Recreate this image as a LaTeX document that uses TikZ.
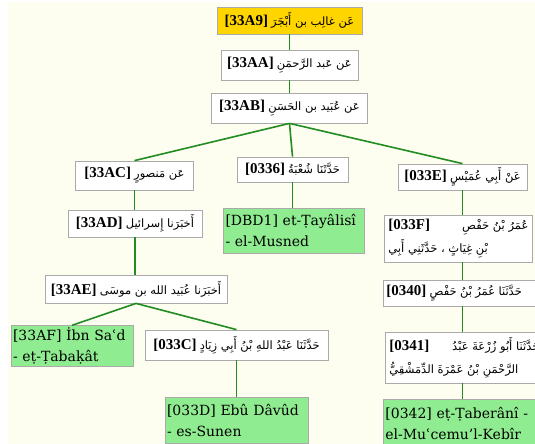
\documentclass[tikz,border=0pt]{standalone}
\usepackage{fontspec}
\setmainfont{DejaVu Serif}
\newfontfamily\idfont{Liberation Serif}
\newfontfamily\arabicfont[Script=Arabic]{DejaVu Sans}
\TeXXeTstate=1
\newcommand\nodeid[1]{{\idfont\bfseries\fontsize{15}{18}\selectfont #1}}
% each Arabic run is boxed so that its right-to-left order stays inside it
\newcommand\artxt[1]{\hbox{\arabicfont\fontsize{11.5}{14}\selectfont\beginR #1\endR}}

\definecolor{bgcream}{RGB}{253,254,240}
\definecolor{boxgray}{RGB}{170,170,170}
\definecolor{rootgold}{RGB}{255,213,0}
\definecolor{srcgreen}{RGB}{144,236,144}
\definecolor{linkgreen}{RGB}{34,140,34}

\tikzset{
  box/.style={draw=boxgray, fill=white, line width=0.8pt, inner sep=3pt,
    align=center},
  rootbox/.style={box, fill=rootgold},
  srcbox/.style={box, fill=srcgreen, align=left, inner sep=2pt,
    font=\fontsize{14}{21}\selectfont},
  longbox/.style={box, inner sep=4pt, align=right,
    font=\fontsize{11}{23}\selectfont},
  link/.style={draw=linkgreen, line width=1.6pt},
}

\begin{document}
\begin{tikzpicture}[x=1pt, y=-1pt]
  \useasboundingbox (0,0) rectangle (535,444);
  \clip (0,0) rectangle (535,444);
  \fill[bgcream] (8,2) rectangle (535,444);

  % chain heads
  \node[rootbox, minimum width=145pt, minimum height=27pt] (n33A9) at (289.5,20.5)
    {\nodeid{[33A9]} \artxt{عَن غالِب بن أَبْجَرَ}};
  \node[box, minimum width=137pt, minimum height=30pt] (n33AA) at (289.5,65)
    {\nodeid{[33AA]} \artxt{عَن عَبد الرَّحمَنِ}};
  \node[box, minimum width=156pt, minimum height=30pt] (n33AB) at (289.5,108)
    {\nodeid{[33AB]} \artxt{عَن عُبَيد بن الحَسَنِ}};

  % left branch
  \node[box, minimum width=118pt, minimum height=29pt] (n33AC) at (134.5,175.5)
    {\nodeid{[33AC]} \artxt{عَن مَنصورٍ}};
  \node[box, minimum width=134pt, minimum height=27pt] (n33AD) at (135,223.5)
    {\nodeid{[33AD]} \artxt{أَخبَرَنا إِسرائيل}};
  \node[box, minimum width=182pt, minimum height=28pt] (n33AE) at (136,289)
    {\nodeid{[33AE]} \artxt{أَخبَرَنا عُبَيد الله بن موسَى}};
  \node[srcbox, text width=118pt, minimum height=38pt] (n33AF) at (72,346)
    {[33AF] İbn Saʿd\\- eṭ-Ṭabaḳât};
  \node[box, minimum width=183pt, minimum height=30pt] (n033C) at (236.5,345)
    {\nodeid{[033C]} \artxt{حَدَّثَنَا عَبْدُ اللهِ بْنُ أَبِي زِيَادٍ}};
  \node[srcbox, text width=139pt, minimum height=46pt] (n033D) at (236.5,420)
    {[033D] Ebû Dâvûd\\- es-Sunen};

  % middle branch
  \node[box, minimum width=111pt, minimum height=25pt] (n0336) at (292.5,169.5)
    {\nodeid{[0336]} \artxt{حَدَّثَنَا شُعْبَةُ}};
  \node[srcbox, text width=137pt, minimum height=45pt] (n0DBD1) at (294,230.5)
    {[DBD1] et-Ṭayâlisî\\- el-Musned};

  % right branch
  \coordinate (rcol) at (462.5,0);
  \node[box, minimum width=129pt, minimum height=26pt] (n033E) at (462.5,177)
    {\nodeid{[033E]} \artxt{عَنْ أَبِي عُمَيْسٍ}};
  \node[longbox, text width=140pt, minimum height=47pt, anchor=west] (n033F) at (384,238.5)
    {\nodeid{[033F]}\hfill\artxt{عُمَرُ بْنُ حَفْصِ}\\
     \artxt{بْنِ غِيَاثٍ ، حَدَّثَنِي أَبِي}};
  \node[box, align=left, text width=152pt, minimum height=26pt, anchor=west] (n0340) at (383,293)
    {\nodeid{[0340]} \artxt{حَدَّثَنَا عُمَرُ بْنُ حَفْصٍ}};
  \node[longbox, text width=150pt, minimum height=51pt, anchor=west] (n0341) at (385,357.5)
    {\nodeid{[0341]}\hfill\artxt{حَدَّثَنَا أَبُو زُرْعَةَ عَبْدُ}\\
     \artxt{الرَّحْمَنِ بْنُ عَمْرَةَ الدِّمَشْقِيُّ}};
  \node[srcbox, text width=160pt, minimum height=48pt, anchor=west] (n0342) at (383,423)
    {[0342] eṭ-Ṭaberânî -\\el-Muʿcemu'l-Kebîr};

  % connectors
  \draw[link] (n33A9.south) -- (n33A9.south |- n33AA.north);
  \draw[link] (n33AA.south) -- (n33AA.south |- n33AB.north);
  \draw[link] (n33AB.south) -- (n33AC.north);
  \draw[link] (n33AB.south) -- (n0336.north);
  \draw[link] (n33AB.south) -- (n033E.north);
  \draw[link] (n33AC.south) -- (n33AC.south |- n33AD.north);
  \draw[link] (n33AD.south) -- (n33AD.south |- n33AE.north);
  \draw[link] (n33AE.south) -- (n33AF.north);
  \draw[link] (n33AE.south) -- (n033C.north);
  \draw[link] (n033C.south) -- (n033C.south |- n033D.north);
  \draw[link] (n0336.south) -- (n0336.south |- n0DBD1.north);
  \draw[link] (n033E.south) -- (n033E.south |- n033F.north);
  \draw[link] (n033F.south -| rcol) -- (n0340.north -| rcol);
  \draw[link] (n0340.south -| rcol) -- (n0341.north -| rcol);
  \draw[link] (n0341.south -| rcol) -- (n0342.north -| rcol);
\end{tikzpicture}
\end{document}
